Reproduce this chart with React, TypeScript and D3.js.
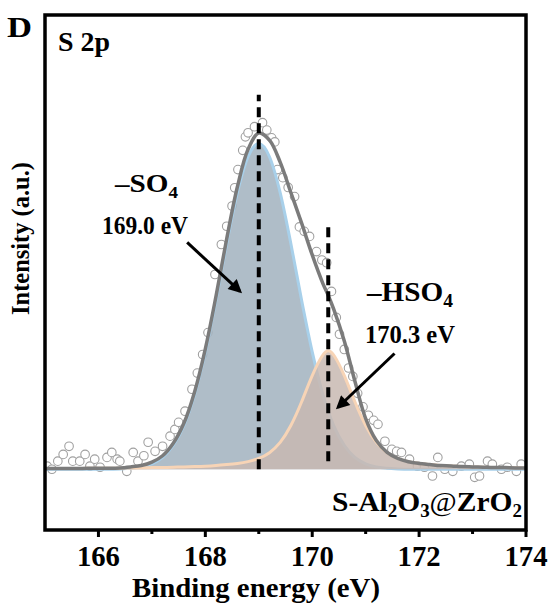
import React from 'react';
import * as d3 from 'd3';

// ---- data ----
const energy = [165.0,165.2,165.4,165.6,165.8,166.0,166.2,166.4,166.6,166.8,167.0,167.2,167.4,167.6,167.8,168.0,168.2,168.4,168.6,168.8,169.0,169.2,169.4,169.6,169.8,170.0,170.2,170.3,170.4,170.6,170.8,171.0,171.2,171.4,171.6,171.8,172.0,172.2,172.4,172.6,172.8,173.0,173.2,173.4,173.6,173.8,174.0];
const so4Fit = [0,0,0,0,0,0,0,0.1,0.3,0.7,1.6,3.5,7.1,13.0,22.2,34.8,50.2,66.9,82.0,92.6,96.5,92.6,82.0,66.9,50.2,34.8,22.2,17.2,13.0,7.1,3.5,1.6,0.7,0.3,0.1,0,0,0,0,0,0,0,0,0,0,0,0];
const hso4Fit = [0.2,0.2,0.2,0.2,0.3,0.3,0.3,0.3,0.4,0.4,0.5,0.5,0.6,0.7,0.8,0.9,1.1,1.4,1.7,2.2,3.1,4.7,7.6,12.6,19.7,28.1,34.3,35.5,34.3,28.1,19.7,12.6,7.6,4.7,3.1,2.2,1.7,1.4,1.1,1.0,0.8,0.7,0.6,0.5,0.5,0.4,0.4];
const envelopeFit = [0.2,0.2,0.2,0.2,0.3,0.3,0.3,0.4,0.7,1.1,2.1,4.0,7.7,13.7,23.0,35.7,51.3,68.3,83.7,94.8,99.6,97.5,91.0,82.0,73.0,63.5,55.0,51.5,47.5,38.0,26.0,15.0,8.5,5.0,3.2,2.2,1.7,1.4,1.1,1.0,0.8,0.7,0.6,0.5,0.5,0.4,0.4];

const expEnergy = [165.04,165.13,165.24,165.34,165.45,165.52,165.65,165.75,165.84,165.93,166.03,166.16,166.25,166.35,166.40,166.53,166.65,166.74,166.85,166.93,167.06,167.20,167.34,167.43,167.50,167.62,167.75,167.85,167.95,168.05,168.18,168.30,168.40,168.50,168.55,168.61,168.70,168.75,168.80,168.92,169.07,169.15,169.24,169.30,169.35,169.45,169.55,169.67,169.76,169.85,169.95,170.08,170.18,170.27,170.36,170.45,170.51,170.60,170.68,170.76,170.85,170.95,171.05,171.15,171.23,171.36,171.49,171.58,171.67,171.82,171.97,172.10,172.25,172.35,172.48,172.63,172.79,172.94,173.04,173.13,173.28,173.37,173.54,173.65,173.82,173.91];
const expIntensity = [0.9,0.0,2.4,4.4,6.8,2.4,2.4,4.4,0.9,3.0,0.6,3.5,5.0,3.0,2.4,-0.6,5.0,2.4,4.0,8.0,5.3,6.8,9.8,11.8,13.9,17.2,23.7,28.5,34.0,40.5,57.7,66.6,72.0,78.0,83.4,88.8,94.5,98.5,99.7,101.5,102.7,100.5,98.2,97.0,88.8,86.4,83.5,80.8,71.8,70.5,69.0,64.5,62.0,61.2,52.7,45.0,40.0,35.5,30.0,27.5,22.5,18.5,16.0,14.5,13.3,8.3,5.9,5.3,5.0,3.0,0.9,0.6,-2.0,3.5,0.0,-0.6,0.9,1.5,-2.4,-2.0,2.4,1.5,0.0,0.6,-0.6,1.5];

const majorTicks = [166, 168, 170, 172, 174];
const minorTicks = [167, 169, 171, 173];
const peakCenters = [169.0, 170.3];
const peakLineTops = [111, 72];
const peakLineBottoms = [0, 2.4];

// ---- layout ----
const W = 551, H = 604;
const x = d3.scaleLinear().domain([165, 174]).range([45, 526]);
const y = d3.scaleLinear().domain([-18, 134.6]).range([530, 15]);

const FONT = "'Times New Roman', 'Liberation Serif', 'DejaVu Serif', serif";
const LA = 'spacingAndGlyphs';

export default function App() {
  const rows = energy.map((e, i) => ({ e, so4: so4Fit[i], hso4: hso4Fit[i], env: envelopeFit[i] }));
  const curve = d3.curveMonotoneX;
  const areaSO4 = d3.area<any>().x(d => x(d.e)).y0(y(0)).y1(d => y(d.so4)).curve(curve);
  const lineSO4 = d3.line<any>().x(d => x(d.e)).y(d => y(d.so4)).curve(curve);
  const areaHSO4 = d3.area<any>().x(d => x(d.e)).y0(y(0)).y1(d => y(d.hso4)).curve(d3.curveBasis);
  const lineHSO4 = d3.line<any>().x(d => x(d.e)).y(d => y(d.hso4)).curve(d3.curveBasis);
  const lineEnv = d3.line<any>().x(d => x(d.e)).y(d => y(d.env)).curve(d3.curveCatmullRom.alpha(0.5));

  const x0 = x(165), x1 = x(174), yTop = y.range()[1], yBot = y.range()[0];

  return (
    <svg width={W} height={H} style={{ position: 'absolute', left: 0, top: 0, background: '#fff', fontFamily: FONT, fontWeight: 'bold' }}>
      <defs>
        <marker id="ah" viewBox="0 0 10 10" refX="8" refY="5" markerWidth="5" markerHeight="4.5"
          orient="auto" markerUnits="strokeWidth">
          <path d="M0,0L10,5L0,10z" fill="#000" />
        </marker>
        <clipPath id="plot"><rect x={x0} y={yTop} width={x1 - x0} height={yBot - yTop} /></clipPath>
      </defs>

      <g clipPath="url(#plot)">
        {expEnergy.map((e, i) => (
          <circle key={i} cx={x(e)} cy={y(expIntensity[i])} r={4.3} fill="#fff" stroke="#a0a0a0" strokeWidth={1.1} />
        ))}
        <path d={areaSO4(rows) as string} fill="#a4b4c0" fillOpacity={0.88} />
        <path d={lineSO4(rows) as string} fill="none" stroke="#a8d0ea" strokeWidth={3} />
        <path d={areaHSO4(rows) as string} fill="#c8b8b2" fillOpacity={0.85} />
        <path d={lineHSO4(rows) as string} fill="none" stroke="#f7d4b6" strokeWidth={3} />
        <path d={lineEnv(rows) as string} fill="none" stroke="#7b7b7b" strokeWidth={3.5} />
        {peakCenters.map((c, i) => (
          <line key={i} x1={x(c)} x2={x(c)} y1={y(peakLineBottoms[i])} y2={y(peakLineTops[i])}
            stroke="#000" strokeWidth={4} strokeDasharray="10,6" />
        ))}
      </g>

      <rect x={x0} y={yTop} width={x1 - x0} height={yBot - yTop} fill="none" stroke="#000" strokeWidth={3.5} />
      {majorTicks.map(t => (
        <line key={'M' + t} x1={x(t)} x2={x(t)} y1={yBot} y2={yBot + 7} stroke="#000" strokeWidth={3} />
      ))}
      {minorTicks.map(t => (
        <line key={'m' + t} x1={x(t)} x2={x(t)} y1={yBot} y2={yBot + 4} stroke="#000" strokeWidth={3} />
      ))}
      {majorTicks.map(t => (
        <text key={'L' + t} x={x(t) - 21.5} y={566} fontSize={29} textLength={43} lengthAdjust={LA}>{t}</text>
      ))}
      <text x={132} y={597} fontSize={28} textLength={248} lengthAdjust={LA}>Binding energy (eV)</text>
      <text transform="translate(29,315) rotate(-90)" fontSize={26} textLength={153} lengthAdjust={LA}>Intensity (a.u.)</text>

      <text x={7} y={37} fontSize={29} textLength={25} lengthAdjust={LA}>D</text>
      <text x={58} y={51} fontSize={28} textLength={52} lengthAdjust={LA}>S 2p</text>

      <text x={115} y={192} fontSize={26} textLength={63} lengthAdjust={LA}>–SO<tspan fontSize={17} dy={6}>4</tspan></text>
      <text x={102} y={234} fontSize={26} textLength={86} lengthAdjust={LA}>169.0 eV</text>
      <line x1={x(167.66)} y1={y(67.2)} x2={x(168.65)} y2={y(52.7)} stroke="#000" strokeWidth={3} markerEnd="url(#ah)" />

      <text x={367} y={301} fontSize={27} textLength={86} lengthAdjust={LA}>–HSO<tspan fontSize={18} dy={6}>4</tspan></text>
      <text x={365} y={343} fontSize={26} textLength={90} lengthAdjust={LA}>170.3 eV</text>
      <line x1={x(171.54)} y1={y(34.3)} x2={x(170.48)} y2={y(18.3)} stroke="#000" strokeWidth={3} markerEnd="url(#ah)" />

      <text x={332} y={511} fontSize={28} textLength={190} lengthAdjust={LA}>
        S-Al<tspan fontSize={18} dy={6}>2</tspan><tspan dy={-6}>O</tspan><tspan fontSize={18} dy={6}>3</tspan><tspan dy={-6} fontWeight="normal">@</tspan>ZrO<tspan fontSize={18} dy={6}>2</tspan>
      </text>
    </svg>
  );
}
